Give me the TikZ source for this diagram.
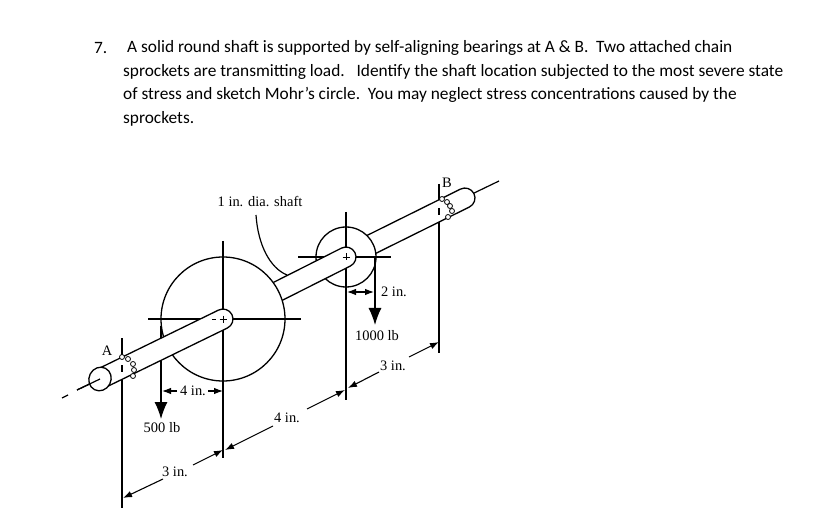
\documentclass[tikz,border=0pt]{standalone}
\usepackage{fontspec}
\setmainfont{Carlito}
\newfontfamily\figfont{Liberation Serif}
\usetikzlibrary{arrows.meta}
\tikzset{
	txt/.style={anchor=west,inner sep=0pt,font=\fontsize{17.4}{20}\selectfont},
	lbl/.style={inner sep=0pt,font=\figfont\fontsize{14.5}{16}\selectfont},
	part/.style={draw,fill=white,line width=1.3bp},
	cline/.style={line width=1.2bp},
	dimen/.style={line width=1.1bp,-{Latex[length=9bp,width=6.5bp]}},
	force/.style={line width=1.2bp,-{Latex[length=17bp,width=13bp]}},
	ball/.style={draw,fill=white,line width=0.8bp,circle,minimum size=5bp,inner sep=0pt}
}
\begin{document}
\begin{tikzpicture}[x=1bp,y=-1bp]
	\useasboundingbox[fill=white] (0,0) rectangle (825,532);

	% question
	\node[txt] at (94,48)(num){7.};
	\node[txt] at (127,48)(l1){A solid round shaft is supported by self-aligning bearings at A \& B.\ \ Two attached chain};
	\node[txt] at (123,72)(l2){sprockets are transmitting load.\ \ \ Identify the shaft location subjected to the most severe state};
	\node[txt] at (123,95)(l3){of stress and sketch Mohr’s circle.\ \ You may neglect stress concentrations caused by the};
	\node[txt] at (123,119)(l4){sprockets.};

	% centre line ends
	\node[coordinate] at (62,398)(e1){};
	\node[coordinate] at (68,395)(e2){};
	\node[coordinate] at (77,390)(e3){};
	\node[coordinate] at (100,379)(e4){};
	\node[coordinate] at (470,195)(e5){};
	\node[coordinate] at (499,181)(e6){};
	\path[cline] (e1)edge(e2)(e3)edge(e4)(e5)edge(e6);

	% bearing lines
	\node[coordinate] at (439,184)(b1){};
	\node[coordinate] at (439,353)(b2){};
	\node[coordinate] at (122,338)(a1){};
	\node[coordinate] at (122,508)(a2){};
	\path[cline] (b1)edge(b2);

	% right shaft and small sprocket
	\draw[part] (341.5,248.1) -- (460.5,189.1) arc[start angle=-116.6,end angle=63.4,radius=10] -- (350.5,265.9) -- cycle;
	\node[coordinate] at (346,212)(s1){};
	\node[coordinate] at (346,400)(s2){};
	\node[coordinate] at (298,257)(s3){};
	\node[coordinate] at (391,257)(s4){};
	\node[coordinate] at (346,257)(sc){};
	\node[coordinate] at (375,257)(f2a){};
	\node[coordinate] at (375,325)(f2b){};
	\draw[part] (sc) circle[radius=30];
	\path[cline] (s1)edge(s2)(s3)edge(s4);
	\path[force] (f2a)edge(f2b);

	% middle shaft and big sprocket
	\draw[part] (223,319) -- (218.5,310.1) -- (341.5,248.1) arc[start angle=-116.6,end angle=63.4,radius=10] -- (227.5,327.9) -- cycle;
	\draw[line width=0.8bp] (342.5,257) -- (349.5,257) (346,253.5) -- (346,260.5);
	\node[coordinate] at (223,241)(w1){};
	\node[coordinate] at (223,458)(w2){};
	\node[coordinate] at (148,319)(w3){};
	\node[coordinate] at (301,319)(w4){};
	\node[coordinate] at (223,319)(wc){};
	\node[coordinate] at (161,326)(f1a){};
	\node[coordinate] at (161,419)(f1b){};
	\draw[part] (wc) circle[radius=62];
	\path[cline] (w1)edge(w2)(w3)edge(w4)(a1)edge(a2);
	\path[force] (f1a)edge(f1b);

	% left shaft
	\draw[part] (95.5,370.1) -- (218.5,310.1) arc[start angle=-116.6,end angle=63.4,radius=10] -- (104.5,387.9) -- cycle;
	\draw[part] (e4) circle[x radius=12,y radius=11,rotate=63];
	\draw[cline] (e3) -- (e4);
	\draw[line width=0.8bp] (219.5,319) -- (226.5,319) (223,315.5) -- (223,322.5) (212,319) -- (216,319);
	\draw[cline] (122,365) -- (122,372) (439,208) -- (439,215);

	% balls of the bearings
	\foreach \px/\py in {122/357,128/359,133/364,134/370,133/376,442/199,447/202,450/206,452/211,448/217}{
		\node[ball] at (\px,\py){};
	}

	% leader
	\node[lbl] at (260,202)(dia){1 in. dia. shaft};
	\node[coordinate] at (256,215)(d1){};
	\node[coordinate] at (287,275)(d2){};
	\draw[cline] (d1) .. controls (258,245) and (270,268) .. (d2);

	% letters and loads
	\node[lbl] at (107,351)(A){A};
	\node[lbl] at (447,183)(B){B};
	\node[lbl] at (162,428)(P1){500 lb};
	\node[lbl] at (377,336)(P2){1000 lb};

	% dimensions
	\node[lbl] at (193,391)(t1){4 in.};
	\node[coordinate] at (177,391)(t1a){};
	\node[coordinate] at (162,391)(t1b){};
	\node[coordinate] at (208,391)(t1c){};
	\node[coordinate] at (223,391)(t1d){};
	\path[dimen] (t1a)edge(t1b)(t1c)edge(t1d);

	\node[lbl] at (394,292)(t2){2 in.};
	\node[coordinate] at (347,292)(t2a){};
	\node[coordinate] at (374,292)(t2b){};
	\draw[dimen,{Latex[length=9bp,width=6.5bp]}-{Latex[length=9bp,width=6.5bp]}] (t2a) -- (t2b);

	\node[lbl] at (175,472)(t3){3 in.};
	\node[coordinate] at (163,479)(t3a){};
	\node[coordinate] at (123,498)(t3b){};
	\node[coordinate] at (193,465)(t3c){};
	\node[coordinate] at (223,450)(t3d){};
	\path[dimen] (t3a)edge(t3b)(t3c)edge(t3d);

	\node[lbl] at (287,418)(t4){4 in.};
	\node[coordinate] at (273,426)(t4a){};
	\node[coordinate] at (225,450)(t4b){};
	\node[coordinate] at (307,409)(t4c){};
	\node[coordinate] at (345,390)(t4d){};
	\path[dimen] (t4a)edge(t4b)(t4c)edge(t4d);

	\node[lbl] at (393,366)(t5){3 in.};
	\node[coordinate] at (379,372)(t5a){};
	\node[coordinate] at (348,388)(t5b){};
	\node[coordinate] at (409,357)(t5c){};
	\node[coordinate] at (439,342)(t5d){};
	\path[dimen] (t5a)edge(t5b)(t5c)edge(t5d);
\end{tikzpicture}
\end{document}
